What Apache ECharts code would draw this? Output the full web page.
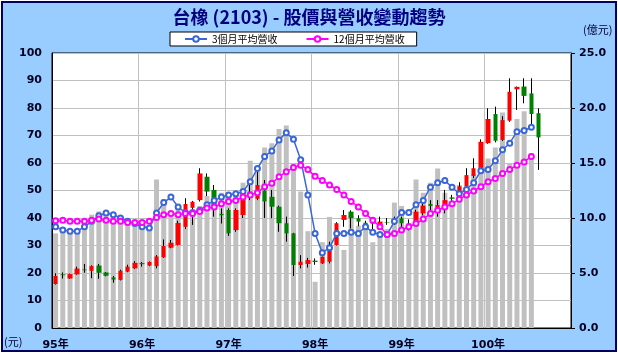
<!DOCTYPE html>
<html><head><meta charset="utf-8">
<script src="https://cdn.jsdelivr.net/npm/echarts@6/dist/echarts.min.js"></script>
<style>
html,body{margin:0;padding:0;background:#fff;}
#wrap{position:relative;width:618px;height:357px;background:#fff;}
#frame{position:absolute;left:1px;top:1px;width:612px;height:347px;background:#99CCFF;border:2px solid #000060;}
#c{position:absolute;left:0;top:0;width:618px;height:357px;}
</style>
</head><body>
<div id="wrap"><div id="frame"></div><div id="c"></div></div>
<script>
// ---- tick labels / categories ----
const yearLabels = ['95年','96年','97年','98年','99年','100年'];
const yearNums = ['95','96','97','98','99','100'];
const monthNums = ['01','02','03','04','05','06','07','08','09','10','11','12'];
const categories = [];
yearNums.forEach(y => monthNums.forEach(m => categories.push(y + '/' + m)));

// ---- monthly revenue (億元) ----
const revenue = [
  8.6,8.7,8.9,8.9,9.8,10.3,10.6,10.4,9.9,9.6,9.5,9.3,
  9.2,9.0,13.5,11.7,10.5,10.8,10.2,10.5,11.1,12.0,11.7,12.3,
  12.0,12.3,13.2,15.2,14.2,16.4,16.8,18.1,18.4,15.0,12.4,8.8,
  4.2,7.8,10.1,8.2,7.1,10.2,9.3,9.0,7.8,8.7,9.0,11.4,
  11.1,9.0,13.5,12.3,13.2,14.5,12.3,11.5,13.0,12.5,14.0,14.2,
  15.4,16.4,19.6,15.0,19.0,19.7,15.9
];
// ---- 3-month average revenue ----
const avg3 = [
  9.2,8.9,8.8,8.8,9.2,9.7,10.2,10.45,10.3,10.0,9.7,9.5,
  9.2,9.1,10.45,11.4,11.9,11.0,10.5,10.5,10.7,11.2,11.6,11.9,
  12.1,12.2,12.4,13.3,14.5,15.6,16.1,17.1,17.75,17.15,15.3,12.1,
  8.6,6.85,7.3,8.6,8.6,8.7,8.6,9.2,8.7,8.5,8.5,9.7,
  10.5,10.5,11.2,11.6,12.8,13.2,13.4,12.8,12.2,12.6,13.2,14.3,
  14.4,15.2,16.2,16.8,17.85,17.95,18.25
];
// ---- 12-month average revenue ----
const avg12 = [
  9.75,9.8,9.7,9.7,9.7,9.8,9.9,9.8,9.7,9.7,9.6,9.6,
  9.6,9.7,10.05,10.3,10.4,10.3,10.4,10.4,10.6,10.9,11.0,11.3,
  11.5,11.6,11.9,12.1,12.3,12.85,13.15,13.75,14.2,14.6,14.8,14.4,
  13.8,13.4,13.0,12.6,12.1,11.5,11.0,10.4,9.8,9.2,8.5,8.6,
  8.9,9.2,9.5,9.9,10.4,10.7,11.0,11.3,11.7,12.1,12.45,12.85,
  13.3,13.6,14.05,14.4,14.8,15.1,15.6
];
// ---- monthly stock price (元) ----
const priceOpen = [
  16.0,19.5,18.0,19.5,21.3,20.8,22.7,20.2,18.4,17.5,20.5,21.7,
  23.6,22.7,22.5,25.7,29.2,30.2,36.8,43.7,46.5,55.0,50.2,41.5,
  42.9,35.6,41.1,49.6,47.0,50.0,47.7,44.1,38.1,34.4,22.9,23.3,
  24.5,23.5,24.1,30.2,39.3,42.3,39.9,38.3,38.0,36.8,38.5,38.1,
  39.9,38.0,38.7,41.7,45.1,43.5,43.5,47.5,47.0,51.4,55.3,57.5,
  67.2,77.8,68.4,75.4,86.8,87.8,85.3,78.1
];
const priceClose = [
  18.9,19.2,19.6,21.6,21.0,22.5,20.1,19.0,17.6,20.8,22.3,23.7,
  23.2,24.0,26.0,29.8,31.0,38.2,45.1,45.9,56.2,49.6,44.1,41.0,
  34.4,42.9,49.0,48.4,52.0,46.0,44.1,38.1,34.4,22.9,24.1,24.7,
  24.0,25.9,28.4,38.1,41.1,39.9,38.7,37.5,37.8,38.7,38.3,39.5,
  38.1,38.2,42.3,44.5,44.4,44.7,46.5,47.0,51.5,55.6,58.1,67.7,
  76.0,68.1,75.6,85.9,87.7,84.4,77.8,69.3
];
const priceLow = [
  15.8,18.0,17.9,19.4,20.1,18.1,17.9,18.8,16.5,17.3,20.3,21.5,
  22.3,22.5,21.7,25.5,29.0,30.0,36.0,37.5,46.0,48.0,40.5,38.0,
  33.5,35.0,40.0,46.5,46.5,40.0,39.9,35.0,31.4,18.9,21.7,22.0,
  23.0,23.3,23.5,30.0,36.8,36.2,37.0,36.8,35.5,36.5,37.5,37.5,
  36.5,35.5,38.0,41.0,40.5,40.5,41.7,45.9,46.5,50.0,54.5,57.0,
  67.0,67.5,68.0,75.0,79.3,81.7,73.8,57.5
];
const priceHigh = [
  19.9,20.2,19.8,22.3,23.3,22.8,23.3,20.3,18.9,21.2,23.0,24.3,
  24.0,24.2,26.5,32.2,32.0,39.0,47.2,46.2,58.1,56.2,52.0,43.5,
  43.5,43.5,50.5,53.2,56.8,53.8,50.2,44.5,40.5,34.6,26.5,25.5,
  25.3,26.0,31.4,38.5,42.9,42.8,41.0,39.0,39.5,40.5,40.0,40.5,
  40.5,39.5,43.0,46.5,46.5,46.5,50.2,48.4,53.0,58.1,61.7,68.6,
  79.9,80.5,77.0,90.8,87.8,90.8,90.8,79.9
];

// tables built for the library
const candleFull = priceOpen.map((o, i) => [o, priceClose[i], priceLow[i], priceHigh[i]]);
const candleBody = priceOpen.map((o, i) => [o, priceClose[i], Math.min(o, priceClose[i]), Math.max(o, priceClose[i])]);

const labelFont = { fontFamily: 'DejaVu Sans, "Noto Sans CJK TC"', fontWeight: 'bold', fontSize: 11, color: '#000022' };

const chart = echarts.init(document.getElementById('c'), null, { renderer: 'canvas' });
chart.setOption({
  backgroundColor: 'transparent',
  animation: false,
  grid: { left: 52, right: 47, top: 53, bottom: 29, show: true, backgroundColor: '#fff', borderColor: '#000', borderWidth: 1 },
  legend: {
    data: ['3個月平均營收', '12個月平均營收'],
    left: 170, top: 32,
    backgroundColor: '#fff', borderColor: '#000', borderWidth: 1,
    padding: [2, 12, 2, 14],
    itemGap: 28, itemWidth: 22, itemHeight: 7,
    textStyle: { fontSize: 10, color: '#000', fontFamily: '"Noto Sans CJK TC"' }
  },
  graphic: [
    { type: 'text', left: 'center', top: 8, style: { text: '台橡 (2103) - 股價與營收變動趨勢', fill: '#000080', font: 'bold 18px "Noto Sans CJK TC"' } },
    { type: 'text', left: 583, top: 24, style: { text: '(億元)', fill: '#000033', font: '11px "Noto Sans CJK TC"' } },
    { type: 'text', left: 4, top: 336, style: { text: '(元)', fill: '#000033', font: '11px "Noto Sans CJK TC"' } }
  ],
  xAxis: {
    type: 'category', data: categories, boundaryGap: true,
    axisLine: { show: true, lineStyle: { color: '#000', width: 1 } },
    axisTick: { show: false },
    axisLabel: Object.assign({ interval: 11, margin: 12, formatter: (v, i) => yearLabels[Math.floor(i / 12)] }, labelFont),
    splitLine: { show: true, interval: 11, lineStyle: { color: '#C0C0C0', width: 1 } }
  },
  yAxis: [
    { type: 'value', min: 0, max: 100, interval: 10, position: 'left',
      axisLine: { show: true, lineStyle: { color: '#000' } }, axisTick: { show: false },
      axisLabel: Object.assign({ margin: 10 }, labelFont),
      splitLine: { show: true, lineStyle: { color: '#C0C0C0', width: 1 } } },
    { type: 'value', min: 0, max: 25, interval: 5, position: 'right',
      axisLine: { show: true, lineStyle: { color: '#000' } },
      axisTick: { show: true, length: 4, lineStyle: { color: '#000' } },
      axisLabel: Object.assign({ margin: 8, formatter: v => v.toFixed(1) }, labelFont),
      splitLine: { show: false } }
  ],
  series: [
    { name: '營收', type: 'bar', yAxisIndex: 1, data: revenue, barWidth: 5, itemStyle: { color: '#C0C0C0' }, z: 1 },
    { name: 'wick', type: 'candlestick', yAxisIndex: 0, data: candleFull, barWidth: 1, z: 2,
      itemStyle: { color: '#000', color0: '#000', borderColor: '#000', borderColor0: '#000', borderWidth: 1 } },
    { name: 'body', type: 'candlestick', yAxisIndex: 0, data: candleBody, barWidth: 5, z: 3,
      itemStyle: { color: '#FF0000', color0: '#008000', borderColor: '#FF0000', borderColor0: '#008000', borderWidth: 0 } },
    { name: '3個月平均營收', type: 'line', yAxisIndex: 1, data: avg3, z: 4,
      symbol: 'emptyCircle', symbolSize: 5, showSymbol: true, showAllSymbol: true,
      lineStyle: { color: '#3A66D8', width: 1.5 }, itemStyle: { color: '#3A66D8', borderWidth: 1 } },
    { name: '12個月平均營收', type: 'line', yAxisIndex: 1, data: avg12, z: 4,
      symbol: 'emptyCircle', symbolSize: 5, showSymbol: true, showAllSymbol: true,
      lineStyle: { color: '#FF00FF', width: 1.5 }, itemStyle: { color: '#FF00FF', borderWidth: 1 } }
  ]
});
</script>
</body></html>
